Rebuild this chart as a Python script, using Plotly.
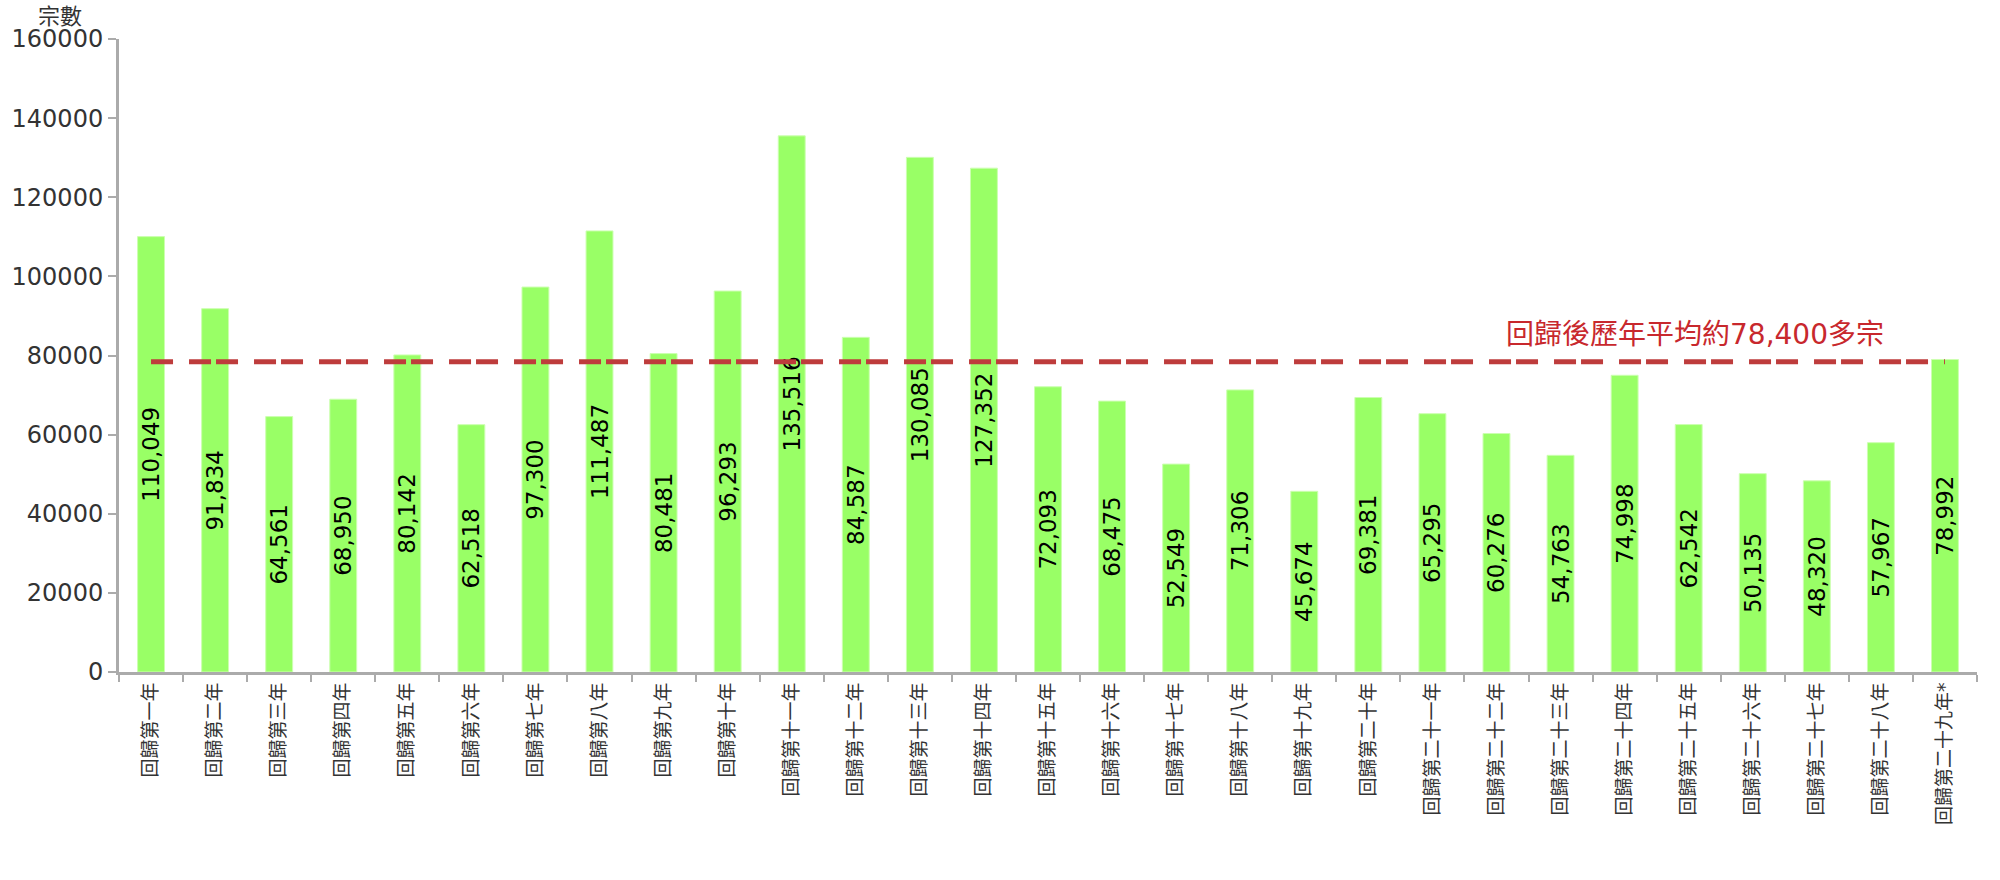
import plotly.graph_objects as go

categories = ["回歸第一年", "回歸第二年", "回歸第三年", "回歸第四年", "回歸第五年", "回歸第六年",
              "回歸第七年", "回歸第八年", "回歸第九年", "回歸第十年", "回歸第十一年", "回歸第十二年",
              "回歸第十三年", "回歸第十四年", "回歸第十五年", "回歸第十六年", "回歸第十七年", "回歸第十八年",
              "回歸第十九年", "回歸第二十年", "回歸第二十一年", "回歸第二十二年", "回歸第二十三年",
              "回歸第二十四年", "回歸第二十五年", "回歸第二十六年", "回歸第二十七年", "回歸第二十八年",
              "回歸第二十九年*"]
values = [110049, 91834, 64561, 68950, 80142, 62518, 97300, 111487, 80481, 96293, 135516, 84587,
          130085, 127352, 72093, 68475, 52549, 71306, 45674, 69381, 65295, 60276, 54763, 74998,
          62542, 50135, 48320, 57967, 78992]
average = 78400
average_label = "回歸後歷年平均約78,400多宗"
y_ticks = [0, 20000, 40000, 60000, 80000, 100000, 120000, 140000, 160000]

FONT = "DejaVu Sans, Noto Sans CJK TC, sans-serif"

fig = go.Figure()
fig.add_trace(go.Bar(
    x=categories, y=values,
    width=0.42,
    marker=dict(color="#99FF66", line=dict(color="#CCFFB0", width=1)),
    text=[f"{v:,}" for v in values],
    textposition="inside",
    insidetextanchor="middle",
    textangle=-90,
    constraintext="none",
    textfont=dict(family=FONT, size=23, color="#000000"),
    hoverinfo="x+y",
))

fig.add_shape(type="line", xref="x", yref="y",
              x0=categories[0], x1=categories[-1], y0=average, y1=average,
              line=dict(color="#BE3C3C", width=5, dash="22px,16px,22px,5px"))

fig.add_annotation(xref="paper", yref="y", x=0.848, y=average, yshift=27,
                   xanchor="center", yanchor="middle",
                   text=average_label, showarrow=False,
                   font=dict(family=FONT, size=28, color="#C8282D"))

fig.add_annotation(xref="paper", yref="paper", x=-0.032, y=1.0, yshift=8,
                   text="宗數", showarrow=False, xanchor="center", yanchor="bottom",
                   font=dict(family=FONT, size=22, color="#333333"))

fig.update_layout(
    width=2000, height=880,
    margin=dict(l=117, r=23, t=39, b=208),
    plot_bgcolor="white", paper_bgcolor="white",
    showlegend=False,
    font=dict(family=FONT, color="#333333"),
    bargap=0.58,
)
fig.update_xaxes(
    type="category",
    tickangle=-90,
    tickfont=dict(family=FONT, size=19, color="#333333"),
    showline=True, linecolor="#ABABAB", linewidth=3,
    ticks="outside", ticklen=7, tickcolor="#ABABAB", tickwidth=2,
    tickson="boundaries",
    showgrid=False,
)
fig.update_yaxes(
    range=[0, 160000],
    tickvals=y_ticks,
    ticktext=[str(v) for v in y_ticks],
    tickfont=dict(family=FONT, size=24, color="#333333"),
    showline=True, linecolor="#ABABAB", linewidth=3,
    ticks="outside", ticklen=8, tickcolor="#ABABAB", tickwidth=2,
    showgrid=False, zeroline=False,
)

fig.write_html("out.html")
